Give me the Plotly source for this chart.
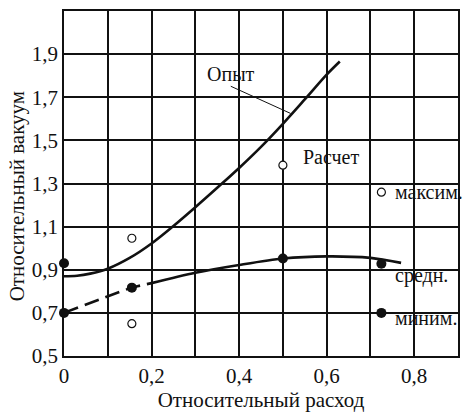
import plotly.graph_objects as go

# Experimental curve ("Опыт")
exp_x = [0.0, 0.03, 0.06, 0.10, 0.15, 0.20, 0.25, 0.30, 0.35, 0.40, 0.45, 0.50, 0.55, 0.60, 0.63]
exp_y = [0.87, 0.872, 0.882, 0.905, 0.955, 1.022, 1.103, 1.19, 1.28, 1.372, 1.47, 1.577, 1.69, 1.805, 1.866]

# Mean calculated curve: dashed part, then solid part
mean_dash_x = [0.0, 0.155, 0.20]
mean_dash_y = [0.70, 0.817, 0.838]
mean_solid_x = [0.20, 0.30, 0.40, 0.50, 0.60, 0.70, 0.77]
mean_solid_y = [0.838, 0.886, 0.922, 0.952, 0.962, 0.955, 0.932]

# Calculated points
filled_x = [0.0, 0.0, 0.155, 0.50, 0.725, 0.725]
filled_y = [0.93, 0.70, 0.817, 0.952, 0.928, 0.70]
open_x = [0.155, 0.155, 0.50, 0.725]
open_y = [1.046, 0.65, 1.385, 1.26]

# Axis ticks
x_tickvals = [0.0, 0.1, 0.2, 0.3, 0.4, 0.5, 0.6, 0.7, 0.8, 0.9]
x_ticktext = ["0", "", "0,2", "", "0,4", "", "0,6", "", "0,8", ""]
y_tickvals = [0.5, 0.7, 0.9, 1.1, 1.3, 1.5, 1.7, 1.9]
y_ticktext = ["0,5", "0,7", "0,9", "1,1", "1,3", "1,5", "1,7", "1,9"]

# Curve labels
label_text = ["Опыт", "Расчет", "максим.", "средн.", "миним."]
label_x = [0.382, 0.611, 0.752, 0.752, 0.752]
label_y = [1.81, 1.424, 1.261, 0.872, 0.674]
label_anchor = ["center", "center", "left", "left", "left"]
leader_x = [0.381, 0.5175]
leader_y = [1.751, 1.625]

FONT = "Liberation Serif"
INK = "#111111"

fig = go.Figure()
fig.add_trace(go.Scatter(x=exp_x, y=exp_y, mode="lines",
                         line=dict(color=INK, width=2.6, shape="spline", smoothing=1.0)))
fig.add_trace(go.Scatter(x=mean_dash_x, y=mean_dash_y, mode="lines",
                         line=dict(color=INK, width=2.6, dash="15px,7px", shape="spline", smoothing=0.5)))
fig.add_trace(go.Scatter(x=mean_solid_x, y=mean_solid_y, mode="lines",
                         line=dict(color=INK, width=2.6, shape="spline", smoothing=0.8)))
fig.add_trace(go.Scatter(x=filled_x, y=filled_y, mode="markers",
                         marker=dict(size=10, color=INK), cliponaxis=False))
fig.add_trace(go.Scatter(x=open_x, y=open_y, mode="markers",
                         marker=dict(size=8, color="white", line=dict(color=INK, width=1.2))))

# Leader line from the "Опыт" label to its curve
fig.add_trace(go.Scatter(x=leader_x, y=leader_y, mode="lines",
                         line=dict(color=INK, width=1)))

for t, x, y, a in zip(label_text, label_x, label_y, label_anchor):
    fig.add_annotation(x=x, y=y, text=t, showarrow=False, xanchor=a, yanchor="middle",
                       font=dict(family=FONT, size=20, color=INK))

fig.add_annotation(xref="paper", yref="paper", x=-0.12, y=0.462, text="Относительный вакуум",
                   textangle=-90, showarrow=False, xanchor="center", yanchor="middle",
                   font=dict(family=FONT, size=21, color=INK))

fig.update_layout(
    width=466, height=413,
    margin=dict(l=64, r=6, t=11, b=49),
    paper_bgcolor="white", plot_bgcolor="white",
    showlegend=False,
    font=dict(family=FONT, size=20, color=INK),
)
fig.update_xaxes(range=[0, 0.9], tickvals=x_tickvals, ticktext=x_ticktext,
                 tickfont=dict(family=FONT, size=21, color=INK),
                 showgrid=True, gridcolor=INK, gridwidth=1.8, zeroline=False,
                 showline=True, linecolor=INK, linewidth=1.8, mirror=True,
                 ticks="", ticklabelstandoff=0,
                 title=dict(text="Относительный расход",
                            font=dict(family=FONT, size=21, color=INK), standoff=4))
fig.update_yaxes(range=[0.5, 2.1], tickvals=y_tickvals, ticktext=y_ticktext,
                 tickfont=dict(family=FONT, size=21, color=INK),
                 showgrid=True, gridcolor=INK, gridwidth=1.8, zeroline=False,
                 showline=True, linecolor=INK, linewidth=1.8, mirror=True,
                 ticks="", ticklabelstandoff=0)

fig.write_html("out.html")
